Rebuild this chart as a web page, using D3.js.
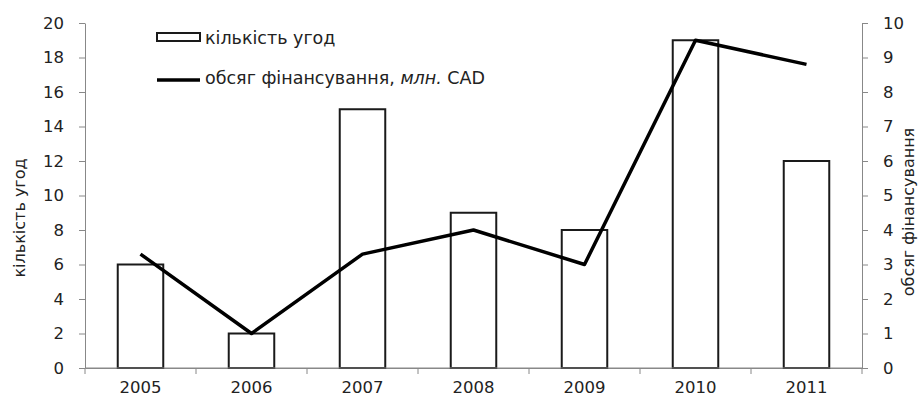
<!DOCTYPE html>
<html><head><meta charset="utf-8">
<script src="https://cdn.jsdelivr.net/npm/d3@7"></script>
<style>
body{margin:0;background:#fff;}
text{font-family:"DejaVu Sans",sans-serif;fill:#222;}
</style></head>
<body><svg id="c" width="921" height="401"></svg>
<script>
const years = ["2005","2006","2007","2008","2009","2010","2011"];
const deals = [6, 2, 15, 9, 8, 19, 12];
const funding = [3.3, 1.0, 3.3, 4.0, 3.0, 9.5, 8.8];
const leftTicks = [0,2,4,6,8,10,12,14,16,18,20];
const rightTicks = [0,1,2,3,4,5,6,7,8,9,10];
const leftTitle = "кількість угод";
const rightTitle = "обсяг фінансування";

const svg = d3.select("#c");
const L = 85, R = 862, T = 23, B = 368;
const x = d3.scaleBand().domain(years).range([L, R]).paddingInner(0).paddingOuter(0);
const yL = d3.scaleLinear().domain([0, 20]).range([B, T]);
const yR = d3.scaleLinear().domain([0, 10]).range([B, T]);
const axisColor = "#888";
const ff = '"DejaVu Sans",sans-serif';
const fs = "16.5px";

const gL = svg.append("g").attr("transform", `translate(${L},0)`)
  .call(d3.axisLeft(yL).tickValues(leftTicks).tickSize(6).tickPadding(15).tickSizeOuter(0));
const gR = svg.append("g").attr("transform", `translate(${R},0)`)
  .call(d3.axisRight(yR).tickValues(rightTicks).tickSize(6).tickPadding(15).tickSizeOuter(0));
const gB = svg.append("g").attr("transform", `translate(0,${B})`)
  .call(d3.axisBottom(x).tickSize(0).tickPadding(13).tickSizeOuter(0));
gB.selectAll(".bt").data(d3.range(years.length + 1)).enter().append("line")
  .attr("x1", i => L + i * x.bandwidth()).attr("x2", i => L + i * x.bandwidth())
  .attr("y1", 0).attr("y2", 6).attr("stroke", axisColor);

[gL, gR, gB].forEach(g => {
  g.selectAll("path.domain").attr("stroke", axisColor);
  g.selectAll(".tick line").attr("stroke", axisColor);
  g.selectAll(".tick text").style("font-size", fs).attr("fill", "#222").style("font-family", ff);
});
gR.selectAll(".tick text").attr("text-anchor", "start");
gB.selectAll(".tick text").attr("dy", "0.71em");

const bw = x.bandwidth() * 0.41;
svg.append("g").selectAll("rect").data(deals).enter().append("rect")
  .attr("x", (d, i) => x(years[i]) + x.bandwidth() / 2 - bw / 2)
  .attr("y", d => yL(d))
  .attr("width", bw)
  .attr("height", d => B - yL(d))
  .attr("fill", "#fff").attr("stroke", "#1a1a1a").attr("stroke-width", 2);

svg.append("line").attr("x1", L).attr("x2", R).attr("y1", B).attr("y2", B).attr("stroke", axisColor);

const line = d3.line().x((d, i) => x(years[i]) + x.bandwidth() / 2).y(d => yR(d));
svg.append("path").datum(funding).attr("d", line)
  .attr("fill", "none").attr("stroke", "#000").attr("stroke-width", 3.5).attr("stroke-linejoin", "round");

svg.append("text").attr("transform", "translate(20,218) rotate(-90)")
  .attr("text-anchor", "middle").attr("dominant-baseline", "middle").style("font-size", "16px").text(leftTitle);
svg.append("text").attr("transform", "translate(909,212) rotate(-90)")
  .attr("text-anchor", "middle").attr("dominant-baseline", "middle").style("font-size", "16px").text(rightTitle);

const lg = svg.append("g");
lg.append("rect").attr("x", 157).attr("y", 33).attr("width", 43).attr("height", 8)
  .attr("fill", "#fff").attr("stroke", "#1a1a1a").attr("stroke-width", 2);
lg.append("text").attr("x", 205).attr("y", 39).attr("dominant-baseline", "middle")
  .style("font-size", "17.5px").text("кількість угод");
lg.append("line").attr("x1", 157).attr("x2", 200).attr("y1", 80).attr("y2", 80)
  .attr("stroke", "#000").attr("stroke-width", 3.5);
const t2 = lg.append("text").attr("x", 205).attr("y", 79).attr("dominant-baseline", "middle")
  .style("font-size", "17.5px");
t2.append("tspan").text("обсяг фінансування, ");
t2.append("tspan").style("font-style", "italic").text("млн.");
t2.append("tspan").text(" CAD");
</script></body></html>
